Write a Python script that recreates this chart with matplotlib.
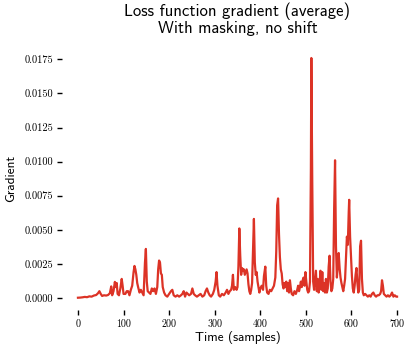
import matplotlib
matplotlib.use("Agg")
from matplotlib import pyplot as plt

# gradient trace (sample index, average gradient)
time = [0, 5, 10, 15, 20, 25, 30, 35, 40, 44, 47, 50, 53, 57, 62, 66, 70, 73, 75, 78,
        81, 83, 85, 87, 90, 93, 96, 98, 100, 104, 107, 110, 113, 116, 119, 122, 124, 126, 128, 130,
        132, 135, 138, 141, 144, 147, 149, 151, 153, 156, 159, 162, 165, 168, 171, 174, 176, 178, 180, 182,
        184, 186, 189, 192, 196, 200, 204, 207, 210, 214, 218, 222, 226, 229, 232, 235, 238, 241, 244, 248,
        251, 254, 257, 261, 265, 269, 273, 277, 280, 283, 286, 289, 292, 296, 299, 302, 304, 306, 309, 312,
        316, 320, 324, 327, 330, 333, 336, 338, 340, 342, 345, 348, 350, 352, 354, 356, 358, 360, 362, 364,
        366, 368, 370, 372, 374, 376, 378, 380, 382, 384, 386, 388, 390, 392, 394, 396, 398, 400, 403, 406,
        408, 411, 413, 415, 418, 421, 424, 427, 430, 433, 435, 437, 439, 441, 443, 445, 447, 449, 451, 453,
        455, 457, 459, 461, 463, 465, 467, 469, 472, 475, 478, 481, 483, 485, 487, 489, 491, 493, 495, 497,
        499, 501, 503, 505, 507, 509, 511, 512, 514, 516, 518, 520, 522, 524, 526, 528, 530, 532, 534, 536,
        538, 540, 542, 544, 546, 548, 550, 552, 554, 556, 558, 560, 562, 564, 566, 568, 570, 572, 574, 576,
        578, 580, 582, 584, 586, 588, 590, 592, 594, 595, 597, 599, 601, 603, 605, 607, 609, 611, 613, 615,
        617, 619, 621, 623, 625, 627, 630, 633, 636, 639, 642, 645, 648, 651, 654, 657, 660, 663, 665, 667,
        669, 671, 674, 677, 680, 683, 686, 689, 692, 695, 698, 700]
gradient = [0.00002, 0.00003, 0.00005, 0.00008, 0.00006, 0.00012, 0.0001, 0.00018, 0.00022, 0.00035,
            0.0005, 0.0003, 0.00015, 0.0002, 0.00018, 0.00022, 0.00035, 0.00085, 0.0002, 0.0005,
            0.00118, 0.0008, 0.0011, 0.0003, 0.0002, 0.0007, 0.0014, 0.0009, 0.0003, 0.0003,
            0.0005, 0.0005, 0.0002, 0.0006, 0.0009, 0.0019, 0.00235, 0.0021, 0.0017, 0.0011,
            0.0008, 0.0004, 0.0006, 0.0004, 0.0002, 0.0026, 0.0036, 0.0012, 0.0005, 0.0004,
            0.0003, 0.0007, 0.0005, 0.0007, 0.0003, 0.0008, 0.0021, 0.00275, 0.0026, 0.0018,
            0.0017, 0.0008, 0.0004, 0.0002, 0.0001, 0.0003, 0.0005, 0.0006, 0.0002, 0.0001,
            0.0002, 0.0001, 0.0002, 0.0003, 0.0005, 0.0001, 0.0004, 0.0003, 0.0002, 0.0003,
            0.0007, 0.0003, 0.0002, 0.0001, 0.0002, 0.0003, 0.0001, 0.0002, 0.0005, 0.0007,
            0.0004, 0.0002, 0.0001, 0.0003, 0.0006, 0.0012, 0.0019, 0.0009, 0.0002, 0.0001,
            0.0003, 0.0002, 0.0004, 0.0006, 0.0003, 0.0005, 0.0006, 0.0009, 0.0017, 0.0006,
            0.0008, 0.0006, 0.0008, 0.0023, 0.0051, 0.0031, 0.0017, 0.0022, 0.002, 0.0021,
            0.0017, 0.0019, 0.0021, 0.0018, 0.001, 0.0005, 0.0003, 0.0006, 0.0011, 0.0035,
            0.0058, 0.0026, 0.0017, 0.0019, 0.0012, 0.0008, 0.0004, 0.0007, 0.0009, 0.0006,
            0.0016, 0.0023, 0.0009, 0.0004, 0.0003, 0.0006, 0.0005, 0.0007, 0.0009, 0.0015,
            0.0034, 0.0068, 0.0073, 0.0047, 0.003, 0.0021, 0.0018, 0.001, 0.0007, 0.0011,
            0.0008, 0.0012, 0.0005, 0.0011, 0.0004, 0.0013, 0.0007, 0.0003, 0.0002, 0.0005,
            0.0003, 0.0006, 0.0009, 0.0005, 0.0008, 0.0012, 0.0008, 0.0013, 0.0015, 0.0009,
            0.0019, 0.0012, 0.0006, 0.0004, 0.0005, 0.0012, 0.0095, 0.0176, 0.0085, 0.0012,
            0.0006, 0.0013, 0.002, 0.0005, 0.0014, 0.0004, 0.0010, 0.002, 0.0006, 0.0019,
            0.0005, 0.0011, 0.0004, 0.0014, 0.0004, 0.0007, 0.0023, 0.0031, 0.0012, 0.0005,
            0.0007, 0.0014, 0.0065, 0.0101, 0.0038, 0.0015, 0.0023, 0.0033, 0.0022, 0.0015,
            0.0011, 0.0008, 0.0005, 0.0009, 0.0014, 0.003, 0.0045, 0.0039, 0.0063, 0.0072,
            0.0045, 0.003, 0.0016, 0.0007, 0.0004, 0.0009, 0.0017, 0.0022, 0.0011, 0.0004,
            0.0006, 0.0038, 0.0042, 0.0014, 0.0004, 0.0002, 0.0003, 0.0002, 0.0001, 0.0002,
            0.0001, 0.0003, 0.0004, 0.0002, 0.0001, 0.0002, 0.0002, 0.0003, 0.0005, 0.0013,
            0.0009, 0.0003, 0.0002, 0.0001, 0.0002, 0.0001, 0.0002, 0.0004, 0.0001, 0.0002,
            0.0001, 0.0001]

x_ticks = [0, 100, 200, 300, 400, 500, 600, 700]
y_ticks = [0.0, 0.0025, 0.0050, 0.0075, 0.0100, 0.0125, 0.0150, 0.0175]

plt.rcParams['axes.formatter.use_mathtext'] = True

fig = plt.figure(figsize=(4.04, 3.51), dpi=100)
ax = fig.add_axes([62 / 404, 41 / 351, 351 / 404, 264 / 351])

ax.plot(time, gradient, color='#dc3326', linewidth=1.6)

ax.set_xlim(-35, 735)
ax.set_ylim(-0.00088, 0.01848)
ax.set_xticks(x_ticks)
ax.set_yticks(y_ticks)
ax.set_xticklabels([str(v) for v in x_ticks], family='cmr10', fontsize=7.2)
ax.set_yticklabels([f"{v:.4f}" for v in y_ticks], family='cmr10', fontsize=7.5)
ax.tick_params(axis='both', length=3.5, width=1.0, color='black', pad=3)

for s in ax.spines.values():
    s.set_visible(False)

ax.set_title("Loss function gradient (average)\nWith masking, no shift",
             family='cmss10', fontsize=12, pad=9, linespacing=1.15)
ax.set_xlabel("Time (samples)", family='cmss10', fontsize=9.5, labelpad=2)
ax.set_ylabel("Gradient", family='cmss10', fontsize=9.5, labelpad=5)

fig.savefig("out.png", dpi=100)
